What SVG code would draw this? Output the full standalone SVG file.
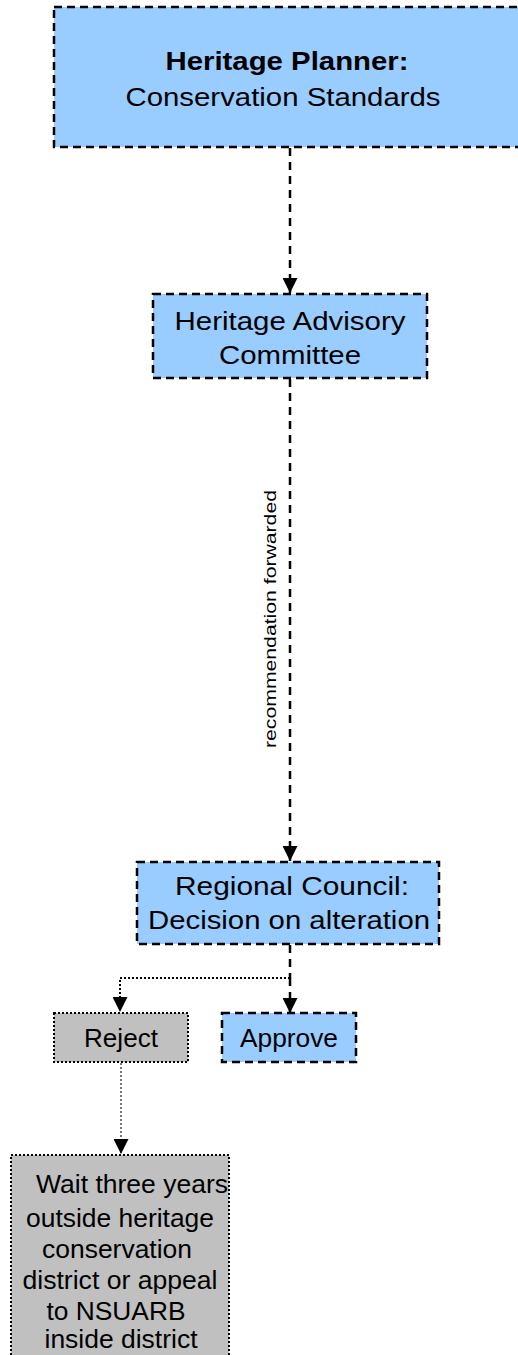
<svg xmlns="http://www.w3.org/2000/svg" width="518" height="1355" viewBox="0 0 518 1355">
<style>
text{font-family:"Liberation Sans",Arial,sans-serif;fill:#000;text-anchor:middle}
.blue{fill:#99ccff;stroke:#000;stroke-width:2.5;stroke-dasharray:8,5}
.gray{fill:#c0c0c0;stroke:#000;stroke-width:2;stroke-dasharray:2,2}
.dash{fill:none;stroke:#000;stroke-width:2.5;stroke-dasharray:8,6}
.dot{fill:none;stroke:#000;stroke-width:2;stroke-dasharray:2,2}
.dotg{fill:none;stroke:#777;stroke-width:2;stroke-dasharray:2,2}
</style>
<defs>
<marker id="ahb" viewBox="0 0 10 10" refX="10" refY="5" markerWidth="15" markerHeight="15" markerUnits="userSpaceOnUse" orient="auto"><path d="M0,0L10,5L0,10z" fill="#000"/></marker>
</defs>
<g id="connectors">
<path class="dash" d="M290,148V293" marker-end="url(#ahb)"/>
<path class="dash" d="M290,379V861" marker-end="url(#ahb)"/>
<text transform="translate(276,619) rotate(-90)" font-size="17" textLength="258" lengthAdjust="spacingAndGlyphs">recommendation forwarded</text>
<path class="dash" d="M290,945V978"/>
<path class="dot" d="M290,978H120V1012" marker-end="url(#ahb)"/>
<path class="dash" d="M290,978V1013" marker-end="url(#ahb)"/>
<path class="dotg" d="M121,1063V1154" marker-end="url(#ahb)"/>
</g>
<g id="planner">
<rect class="blue" x="54" y="7" width="470" height="140"/>
<text x="287" y="70" font-size="25.5" font-weight="bold" textLength="243" lengthAdjust="spacingAndGlyphs">Heritage Planner:</text>
<text x="283" y="106" font-size="25.5" textLength="315" lengthAdjust="spacingAndGlyphs">Conservation Standards</text>
</g>
<g id="hac">
<rect class="blue" x="153" y="294" width="274" height="84"/>
<text x="290" y="330" font-size="26.5" textLength="231" lengthAdjust="spacingAndGlyphs">Heritage Advisory</text>
<text x="290" y="364" font-size="26.5" textLength="142" lengthAdjust="spacingAndGlyphs">Committee</text>
</g>
<g id="council">
<rect class="blue" x="137" y="862" width="302" height="82"/>
<text x="292" y="895" font-size="26.5" textLength="234" lengthAdjust="spacingAndGlyphs">Regional Council:</text>
<text x="289" y="929" font-size="26.5" textLength="282" lengthAdjust="spacingAndGlyphs">Decision on alteration</text>
</g>
<g id="reject">
<rect class="gray" x="54" y="1013" width="134" height="49"/>
<text x="121" y="1047" font-size="26" textLength="74" lengthAdjust="spacingAndGlyphs">Reject</text>
</g>
<g id="approve">
<rect class="blue" x="222" y="1013" width="134" height="49"/>
<text x="289" y="1047" font-size="26" textLength="98" lengthAdjust="spacingAndGlyphs">Approve</text>
</g>
<g id="wait">
<rect class="gray" x="11" y="1155" width="218" height="210"/>
<text x="132" y="1193" font-size="26" textLength="192" lengthAdjust="spacingAndGlyphs">Wait three years</text>
<text x="120" y="1227" font-size="26" textLength="188" lengthAdjust="spacingAndGlyphs">outside heritage</text>
<text x="117" y="1258" font-size="26" textLength="150" lengthAdjust="spacingAndGlyphs">conservation</text>
<text x="120" y="1289" font-size="26" textLength="195" lengthAdjust="spacingAndGlyphs">district or appeal</text>
<text x="116" y="1320" font-size="26" textLength="139" lengthAdjust="spacingAndGlyphs">to NSUARB</text>
<text x="121" y="1348" font-size="25" textLength="153" lengthAdjust="spacingAndGlyphs">inside district</text>
</g>
</svg>
